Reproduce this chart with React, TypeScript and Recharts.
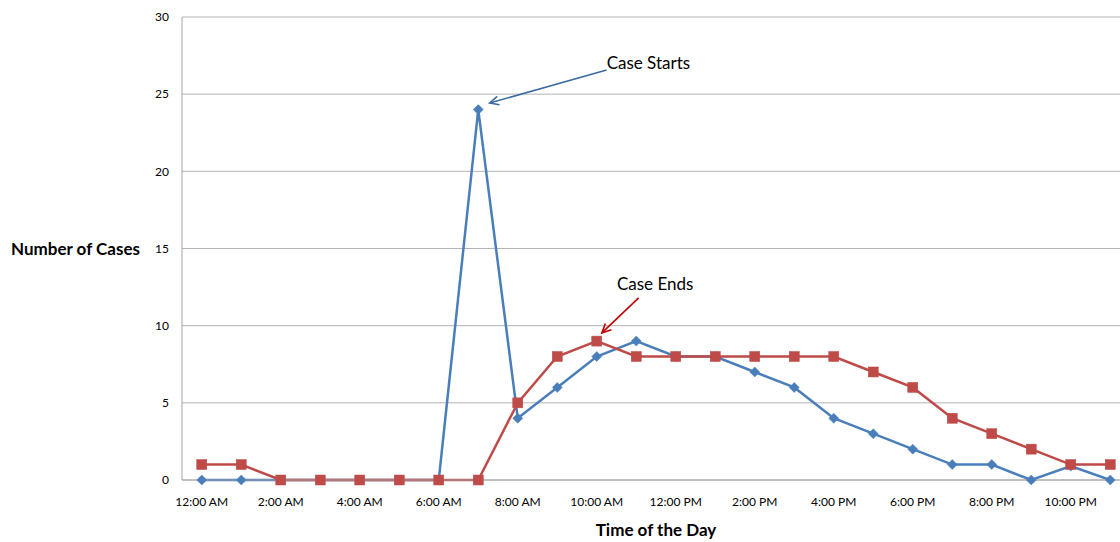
import React from 'react';
import { LineChart, Line, XAxis, YAxis, CartesianGrid, ReferenceLine, ReferenceDot } from 'recharts';

const hourLabels = [
  '12:00 AM', '1:00 AM', '2:00 AM', '3:00 AM', '4:00 AM', '5:00 AM', '6:00 AM', '7:00 AM',
  '8:00 AM', '9:00 AM', '10:00 AM', '11:00 AM', '12:00 PM', '1:00 PM', '2:00 PM', '3:00 PM',
  '4:00 PM', '5:00 PM', '6:00 PM', '7:00 PM', '8:00 PM', '9:00 PM', '10:00 PM', '11:00 PM',
];
const caseStarts = [0, 0, 0, 0, 0, 0, 0, 24, 4, 6, 8, 9, 8, 8, 7, 6, 4, 3, 2, 1, 1, 0, 0.9, 0];
const caseEnds = [1, 1, 0, 0, 0, 0, 0, 0, 5, 8, 9, 8, 8, 8, 8, 8, 8, 7, 6, 4, 3, 2, 1, 1];
const xTicks = [0, 2, 4, 6, 8, 10, 12, 14, 16, 18, 20, 22];
const yTicks = [0, 5, 10, 15, 20, 25, 30];

const data = hourLabels.map((label, i) => ({ hour: i, label, starts: caseStarts[i], ends: caseEnds[i] }));

const BLUE = '#4a7ebb';
const RED = '#be4b48';
const FONT = 'Lato, "Open Sans", sans-serif';

const Diamond = (props: any) => {
  const { cx, cy } = props;
  if (cx == null || cy == null) return null;
  const r = 5;
  return <polygon points={`${cx},${cy - r} ${cx + r},${cy} ${cx},${cy + r} ${cx - r},${cy}`} fill={BLUE} stroke={BLUE} strokeWidth={0.5} />;
};

const Square = (props: any) => {
  const { cx, cy } = props;
  if (cx == null || cy == null) return null;
  const s = 10;
  return <rect x={cx - s / 2} y={cy - s / 2} width={s} height={s} fill={RED} stroke={RED} strokeWidth={0.5} />;
};

const makeArrow = (color: string) => (props: any) => {
  const { x1, y1, x2, y2 } = props;
  if ([x1, y1, x2, y2].some((v) => v == null || isNaN(v))) return <g />;
  const ang = Math.atan2(y2 - y1, x2 - x1);
  const len = 10;
  const spread = 0.45;
  const ax = x2 - len * Math.cos(ang - spread);
  const ay = y2 - len * Math.sin(ang - spread);
  const bx = x2 - len * Math.cos(ang + spread);
  const by = y2 - len * Math.sin(ang + spread);
  return (
    <g>
      <line x1={x1} y1={y1} x2={x2} y2={y2} stroke={color} strokeWidth={1.6} />
      <polyline points={`${ax},${ay} ${x2},${y2} ${bx},${by}`} fill="none" stroke={color} strokeWidth={1.6} />
    </g>
  );
};

export default function App() {
  return (
    <div style={{ position: 'fixed', left: 0, top: 0, width: 1120, height: 542, overflow: 'hidden', background: '#fff' }}>
      <LineChart width={1135} height={542} data={data} margin={{ top: 17, right: 5, left: 0, bottom: 0 }}>
        <CartesianGrid vertical={false} stroke="#b4b4b4" strokeWidth={1} />
        <XAxis
          dataKey="hour"
          type="number"
          domain={[-0.5, 23.5]}
          ticks={xTicks}
          tickFormatter={(v: number) => hourLabels[v]}
          interval={0}
          height={62}
          tickLine={false}
          tickMargin={11}
          axisLine={{ stroke: '#a6a6a6' }}
          tick={{ fill: '#000', fontSize: 12, fontFamily: FONT }}
          label={{ value: 'Time of the Day', position: 'insideBottom', offset: 6, fill: '#000', fontSize: 17, fontWeight: 700, fontFamily: FONT }}
        />
        <YAxis
          domain={[0, 30]}
          ticks={yTicks}
          width={182}
          tickLine={false}
          tickMargin={7}
          axisLine={{ stroke: '#a6a6a6' }}
          tick={{ fill: '#000', fontSize: 12, fontFamily: FONT }}
          label={{ value: 'Number of Cases', position: 'insideLeft', offset: 11, fill: '#000', fontSize: 17, fontWeight: 700, fontFamily: FONT }}
        />
        <Line dataKey="starts" stroke={BLUE} strokeWidth={2.5} dot={<Diamond />} activeDot={false} isAnimationActive={false} />
        <Line dataKey="ends" stroke={RED} strokeWidth={2.5} dot={<Square />} activeDot={false} isAnimationActive={false} />
        <ReferenceLine segment={[{ x: 10.25, y: 26.57 }, { x: 7.29, y: 24.43 }]} shape={makeArrow('#3d6aa3')} ifOverflow="visible" />
        <ReferenceLine segment={[{ x: 11.06, y: 11.8 }, { x: 10.13, y: 9.53 }]} shape={makeArrow('#c00000')} ifOverflow="visible" />
        <ReferenceDot x={10.25} y={27.02} r={0} fill="none" stroke="none" ifOverflow="visible"
          label={{ value: 'Case Starts', position: 'right', offset: 0, fill: '#000', fontSize: 17, fontFamily: FONT }} />
        <ReferenceDot x={10.51} y={12.7} r={0} fill="none" stroke="none" ifOverflow="visible"
          label={{ value: 'Case Ends', position: 'right', offset: 0, fill: '#000', fontSize: 17, fontFamily: FONT }} />
      </LineChart>
    </div>
  );
}
